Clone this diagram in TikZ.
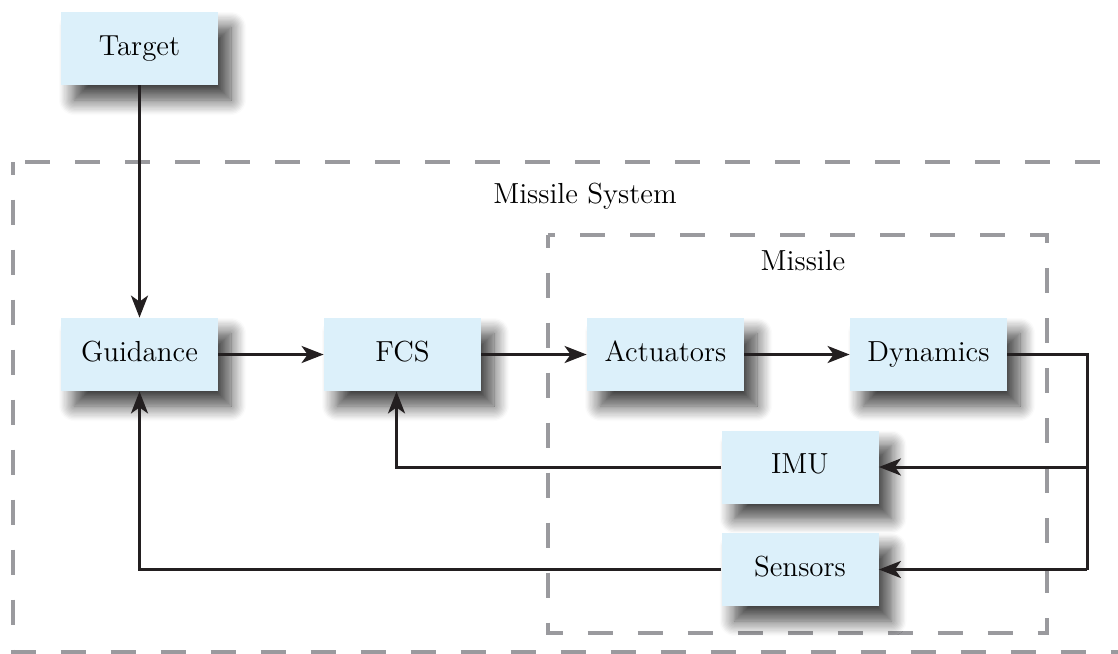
\documentclass[tikz,border=0pt]{standalone}
\usetikzlibrary{arrows.meta,shadows.blur}
\definecolor{boxfill}{HTML}{DCF0FA}
\definecolor{linedark}{HTML}{231F20}
\definecolor{framegray}{HTML}{9A9A9E}
\tikzset{
  block/.style={fill=boxfill, minimum width=78.5pt, minimum height=36.5pt,
    inner sep=0pt, font=\fontsize{14.5}{17}\selectfont,
    text height=0.72em, text depth=0.04em,
    blur shadow={shadow xshift=6.5pt, shadow yshift=-7.5pt,
      shadow blur radius=7.5pt, shadow blur steps=12, shadow opacity=75}},
  frame/.style={draw=framegray, line width=2pt,
    dash pattern=on 12.5pt off 12.5pt, dash phase=6.25pt},
  flow/.style={draw=linedark, line width=1.5pt,
    -{Stealth[length=11pt, width=8.5pt, inset=3pt]}},
  plain/.style={draw=linedark, line width=1.5pt},
  caption/.style={font=\fontsize{14.5}{17}\selectfont}
}
\begin{document}
\begin{tikzpicture}[x=0.5pt, y=-0.5pt]
  \useasboundingbox (0,0) rectangle (1118,653);

  % system boundaries
  \draw[frame] (13,162) rectangle (1160,652);
  \draw[frame] (548,235) rectangle (1047,633);
  \node[caption] (sys) at (585,196) {Missile System};
  \node[caption] (mis) at (803,261) {Missile};

  % blocks
  \node[block] (target) at (139.5,48.5) {Target};
  \node[block] (guid) at (139.5,354.5) {Guidance};
  \node[block] (fcs) at (402.5,354.5) {FCS};
  \node[block] (act) at (665.5,354.5) {Actuators};
  \node[block] (dyn) at (928.5,354.5) {Dynamics};
  \node[block] (imu) at (800,467) {IMU};
  \node[block] (sens) at (800,569.5) {Sensors};

  % forward path
  \draw[flow] (target) -- (guid);
  \draw[flow] (guid) -- (fcs);
  \draw[flow] (fcs) -- (act);
  \draw[flow] (act) -- (dyn);

  % feedback paths
  \coordinate (bus) at (1087,354.5);
  \draw[plain] (dyn.east) -- (bus) -- (bus |- sens.east);
  \draw[flow] (bus |- imu.east) -- (imu.east);
  \draw[flow] (bus |- sens.east) -- (sens.east);
  \draw[flow] (imu.west) -| ([xshift=-3pt]fcs.south);
  \draw[flow] (sens.west) -| (guid.south);
\end{tikzpicture}
\end{document}
